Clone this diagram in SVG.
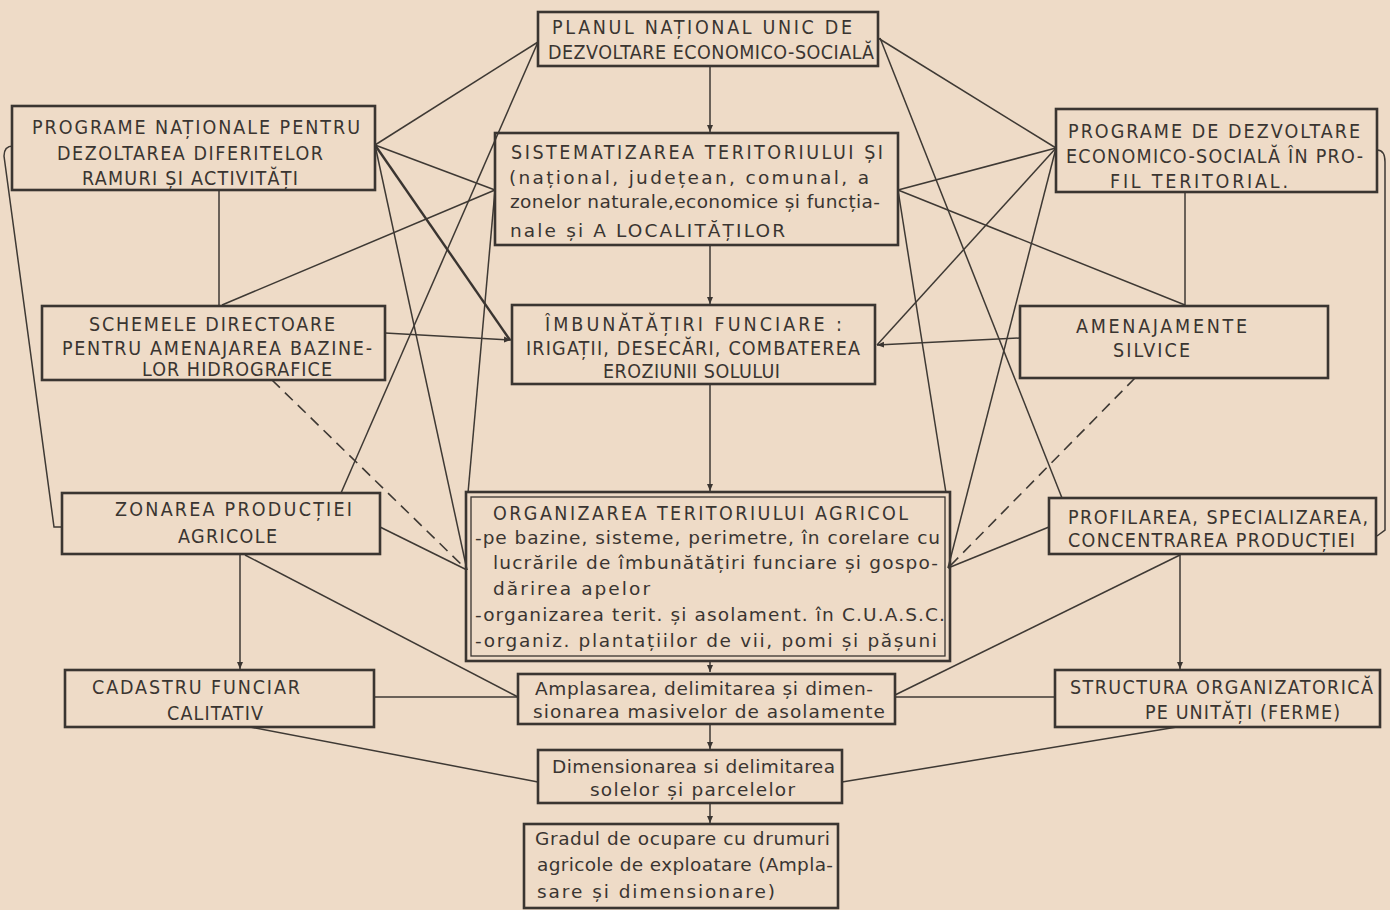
<svg xmlns="http://www.w3.org/2000/svg" width="1390" height="910" viewBox="0 0 1390 910">
<defs>
<style>
.bg{fill:#eedbc7}
.box{fill:none;stroke:#3a3531;stroke-width:2.6}
.inner{fill:none;stroke:#3a3531;stroke-width:1.3}
.ln{fill:none;stroke:#3e3934;stroke-width:1.5}
.thick{fill:none;stroke:#3a3531;stroke-width:2.4}
.dash{fill:none;stroke:#3e3934;stroke-width:1.6;stroke-dasharray:11 7}
.cap{font-family:"DejaVu Sans Condensed","Liberation Sans Narrow","Liberation Sans",sans-serif;font-size:19.5px;fill:#3a3531}
.low{font-family:"DejaVu Sans","Liberation Sans",sans-serif;font-size:18.5px;fill:#3a3531}
</style>
<marker id="ah" markerWidth="8" markerHeight="8" refX="7" refY="4" orient="auto" markerUnits="userSpaceOnUse">
<path d="M0,1 L7,4 L0,7 Z" fill="#3a3531"/>
</marker>
</defs>
<rect class="bg" x="0" y="0" width="1390" height="910"/>

<g id="connectors">
<line class="ln" x1="710" y1="66" x2="710" y2="132" marker-end="url(#ah)"/>
<line class="ln" x1="710" y1="245" x2="710" y2="304" marker-end="url(#ah)"/>
<line class="ln" x1="710" y1="384" x2="710" y2="491" marker-end="url(#ah)"/>
<line class="ln" x1="710" y1="661" x2="710" y2="672" marker-end="url(#ah)"/>
<line class="ln" x1="710" y1="724" x2="710" y2="749" marker-end="url(#ah)"/>
<line class="ln" x1="710" y1="803" x2="710" y2="823" marker-end="url(#ah)"/>
<line class="ln" x1="538" y1="42" x2="375" y2="145"/>
<line class="ln" x1="538" y1="42" x2="341" y2="493"/>
<line class="ln" x1="375" y1="145" x2="495" y2="190"/>
<line class="thick" x1="375" y1="145" x2="510" y2="340"/>
<line class="ln" x1="375" y1="145" x2="467" y2="570"/>
<line class="ln" x1="219" y1="190" x2="219" y2="305"/>
<line class="ln" x1="495" y1="190" x2="222" y2="305"/>
<line class="ln" x1="495" y1="190" x2="468" y2="493"/>
<line class="ln" x1="385" y1="333" x2="511" y2="340" marker-end="url(#ah)"/>
<line class="ln" x1="380" y1="527" x2="467" y2="570"/>
<line class="ln" x1="240" y1="555" x2="240" y2="669" marker-end="url(#ah)"/>
<line class="ln" x1="245" y1="555" x2="518" y2="697"/>
<line class="ln" x1="374" y1="697" x2="518" y2="697"/>
<line class="ln" x1="250" y1="727" x2="538" y2="782"/>
<line class="ln" x1="878" y1="38" x2="1056" y2="148"/>
<line class="ln" x1="880" y1="38" x2="1062" y2="498"/>
<line class="ln" x1="898" y1="190" x2="1056" y2="148"/>
<line class="ln" x1="898" y1="190" x2="1185" y2="305"/>
<line class="ln" x1="898" y1="190" x2="946" y2="493"/>
<line class="ln" x1="1056" y1="148" x2="877" y2="345"/>
<line class="ln" x1="1056" y1="148" x2="948" y2="568"/>
<line class="ln" x1="1185" y1="192" x2="1185" y2="305"/>
<line class="ln" x1="1020" y1="338" x2="877" y2="345" marker-end="url(#ah)"/>
<line class="ln" x1="1049" y1="527" x2="948" y2="568"/>
<line class="ln" x1="1180" y1="555" x2="1180" y2="669" marker-end="url(#ah)"/>
<line class="ln" x1="1180" y1="555" x2="895" y2="695"/>
<line class="ln" x1="895" y1="697" x2="1055" y2="697"/>
<line class="ln" x1="1177" y1="727" x2="842" y2="782"/>
<path class="ln" d="M13,146 Q4,146 4,156 L54,527 L62,527"/>
<path class="ln" d="M1377,150 Q1385,150 1385,162 L1385,530 L1377,536"/>
<line class="dash" x1="272" y1="380" x2="467" y2="570"/>
<line class="dash" x1="1135" y1="378" x2="948" y2="568"/>
</g>

<g id="planul">
<rect class="box" x="538" y="12" width="340" height="54"/>
<text class="cap" x="552" y="34" textLength="300">PLANUL NAȚIONAL UNIC DE</text>
<text class="cap" x="548" y="59" textLength="326">DEZVOLTARE ECONOMICO-SOCIALĂ</text>
</g>

<g id="programe-nationale">
<rect class="box" x="12" y="106" width="363" height="84"/>
<text class="cap" x="32" y="134" textLength="328">PROGRAME NAȚIONALE PENTRU</text>
<text class="cap" x="57" y="160" textLength="266">DEZOLTAREA DIFERITELOR</text>
<text class="cap" x="82" y="185" textLength="216">RAMURI ȘI ACTIVITĂȚI</text>
</g>

<g id="sistematizarea">
<rect class="box" x="495" y="133" width="403" height="112"/>
<text class="cap" x="511" y="159" textLength="372">SISTEMATIZAREA TERITORIULUI ȘI</text>
<text class="low" x="509" y="184" textLength="360">(național, județean, comunal, a</text>
<text class="low" x="510" y="208" textLength="370">zonelor naturale,economice și funcția-</text>
<text class="low" x="510" y="237" textLength="275">nale și A LOCALITĂȚILOR</text>
</g>

<g id="programe-dezvoltare">
<rect class="box" x="1056" y="109" width="321" height="83"/>
<text class="cap" x="1068" y="138" textLength="292">PROGRAME DE DEZVOLTARE</text>
<text class="cap" x="1066" y="163" textLength="297">ECONOMICO-SOCIALĂ ÎN PRO-</text>
<text class="cap" x="1110" y="188" textLength="178">FIL TERITORIAL.</text>
</g>

<g id="schemele">
<rect class="box" x="42" y="306" width="343" height="74"/>
<text class="cap" x="89" y="331" textLength="246">SCHEMELE DIRECTOARE</text>
<text class="cap" x="62" y="355" textLength="310">PENTRU AMENAJAREA BAZINE-</text>
<text class="cap" x="142" y="376" textLength="190">LOR HIDROGRAFICE</text>
</g>

<g id="imbunatatiri">
<rect class="box" x="512" y="305" width="363" height="79"/>
<text class="cap" x="545" y="331" textLength="297">ÎMBUNĂTĂȚIRI FUNCIARE :</text>
<text class="cap" x="526" y="355" textLength="334">IRIGAȚII, DESECĂRI, COMBATEREA</text>
<text class="cap" x="603" y="378" textLength="177">EROZIUNII SOLULUI</text>
</g>

<g id="amenajamente">
<rect class="box" x="1020" y="306" width="308" height="72"/>
<text class="cap" x="1076" y="333" textLength="171">AMENAJAMENTE</text>
<text class="cap" x="1113" y="357" textLength="77">SILVICE</text>
</g>

<g id="zonarea">
<rect class="box" x="62" y="493" width="318" height="61"/>
<text class="cap" x="115" y="516" textLength="237">ZONAREA PRODUCȚIEI</text>
<text class="cap" x="178" y="543" textLength="99">AGRICOLE</text>
</g>

<g id="organizarea">
<rect class="box" x="466" y="492" width="484" height="169"/>
<rect class="inner" x="471" y="497" width="474" height="159"/>
<text class="cap" x="493" y="520" textLength="415">ORGANIZAREA TERITORIULUI AGRICOL</text>
<text class="low" x="475" y="544" textLength="465">-pe bazine, sisteme, perimetre, în corelare cu</text>
<text class="low" x="493" y="569" textLength="445">lucrările de îmbunătățiri funciare și gospo-</text>
<text class="low" x="493" y="595" textLength="157">dărirea apelor</text>
<text class="low" x="475" y="621" textLength="470">-organizarea terit. și asolament. în C.U.A.S.C.</text>
<text class="low" x="475" y="647" textLength="462">-organiz. plantațiilor de vii, pomi și pășuni</text>
</g>

<g id="profilarea">
<rect class="box" x="1049" y="498" width="327" height="56"/>
<text class="cap" x="1068" y="524" textLength="300">PROFILAREA, SPECIALIZAREA,</text>
<text class="cap" x="1068" y="547" textLength="287">CONCENTRAREA PRODUCȚIEI</text>
</g>

<g id="cadastru">
<rect class="box" x="65" y="670" width="309" height="57"/>
<text class="cap" x="92" y="694" textLength="208">CADASTRU FUNCIAR</text>
<text class="cap" x="167" y="720" textLength="96">CALITATIV</text>
</g>

<g id="amplasarea">
<rect class="box" x="518" y="674" width="377" height="50"/>
<text class="low" x="535" y="695" textLength="338">Amplasarea, delimitarea și dimen-</text>
<text class="low" x="533" y="718" textLength="352">sionarea masivelor de asolamente</text>
</g>

<g id="structura">
<rect class="box" x="1055" y="670" width="325" height="57"/>
<text class="cap" x="1070" y="694" textLength="303">STRUCTURA ORGANIZATORICĂ</text>
<text class="cap" x="1145" y="719" textLength="195">PE UNITĂȚI (FERME)</text>
</g>

<g id="dimensionarea">
<rect class="box" x="538" y="750" width="304" height="53"/>
<text class="low" x="552" y="773" textLength="283">Dimensionarea si delimitarea</text>
<text class="low" x="590" y="796" textLength="205">solelor și parcelelor</text>
</g>

<g id="gradul">
<rect class="box" x="524" y="824" width="314" height="84"/>
<text class="low" x="535" y="845" textLength="295">Gradul de ocupare cu drumuri</text>
<text class="low" x="537" y="871" textLength="296">agricole de exploatare (Ampla-</text>
<text class="low" x="537" y="898" textLength="238">sare și dimensionare)</text>
</g>
</svg>
